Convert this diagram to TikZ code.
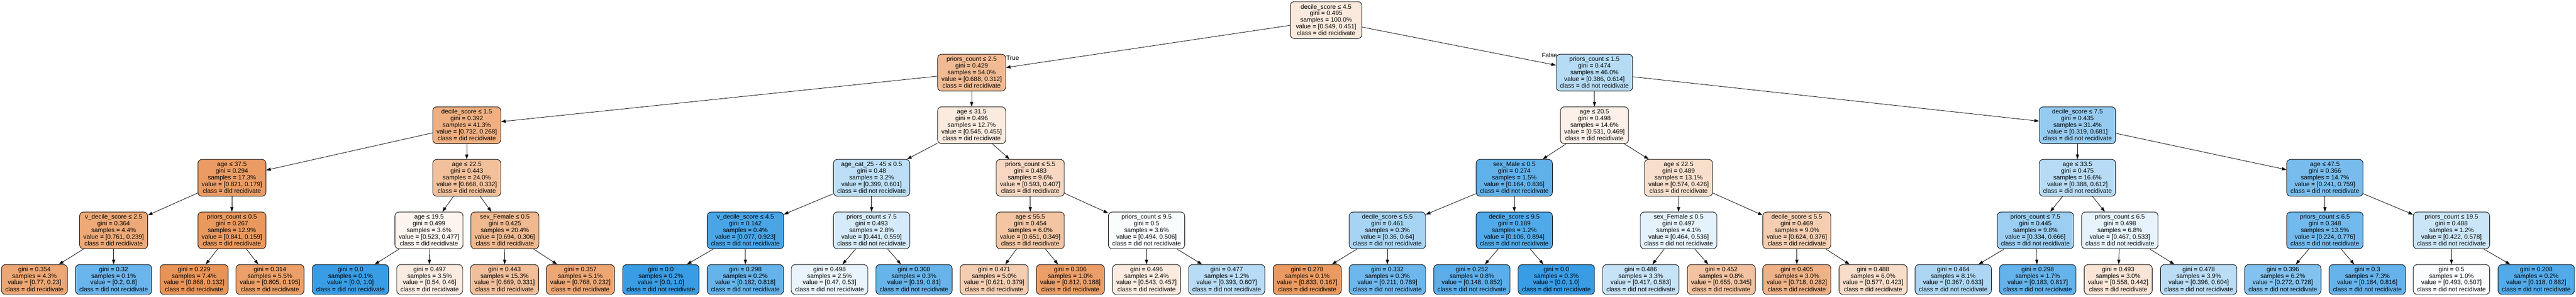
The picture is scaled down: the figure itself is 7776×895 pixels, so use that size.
\documentclass[tikz,border=0pt]{standalone}
\usepackage{fontspec}
\setmainfont{Liberation Sans}
\usetikzlibrary{arrows.meta}
\definecolor{cz}{RGB}{229,129,57}
\definecolor{co}{RGB}{57,157,229}
\newcommand\ls{\rule[-3.8pt]{0pt}{19.8pt}}
\tikzset{
  vals/.code 2 args={%
    \pgfmathparse{(#1)>=(#2)?1:0}%
    \ifdim\pgfmathresult pt>0.5pt
      \pgfmathsetmacro\alp{100*((#1)-(#2))/(1-(#2))}%
      \edef\tmpc{\noexpand\tikzset{fill=cz!\alp!white}}\tmpc
      \def\clsname{did recidivate}%
    \else
      \pgfmathsetmacro\alp{100*((#2)-(#1))/(1-(#1))}%
      \edef\tmpc{\noexpand\tikzset{fill=co!\alp!white}}\tmpc
      \def\clsname{did not recidivate}%
    \fi},
  tnode/.style={draw=black, line width=1.4pt, rounded corners=12pt, align=center,
    inner xsep=11.5pt, inner ysep=0pt, minimum height=111pt,
    font=\fontsize{18.9}{19.8}\selectfont},
  lnode/.style={tnode, minimum height=90pt},
  lbl/.style={inner sep=0pt, font=\fontsize{18.9}{19.8}\selectfont},
  edge/.style={line width=1.3pt, -{Triangle[length=14pt,width=9.5pt]}}
}
\newcommand\inode[8][]{\node[tnode,vals={#7}{#8},#1] (#2) at (#3) {#4\ls\\gini = #5\\samples = #6\%\\value = [#7, #8]\\class = \clsname\ls};}
\newcommand\leafn[6]{\node[lnode,vals={#5}{#6}] (#1) at (#2,843) {gini = #3\ls\\samples = #4\%\\value = [#5, #6]\\class = \clsname\ls};}
\begin{document}
\begin{tikzpicture}[x=1pt,y=-1pt]
\useasboundingbox (0,0) rectangle (7776,895);
\fill[white] (0,0) rectangle (7776,895);
% level 0
\inode[minimum width=216pt]{n0}{4003,60.5}{decile\_score ≤ 4.5}{0.495}{100.0}{0.549}{0.451}
% level 1
\inode{n1}{2933,219.1}{priors\_count ≤ 2.5}{0.429}{54.0}{0.688}{0.312}
\inode{n2}{4813,219.1}{priors\_count ≤ 1.5}{0.474}{46.0}{0.386}{0.614}
% level 2
\inode{n3}{1409,377.7}{decile\_score ≤ 1.5}{0.392}{41.3}{0.732}{0.268}
\inode{n4}{2933,377.7}{age ≤ 31.5}{0.496}{12.7}{0.545}{0.455}
\inode{n5}{4813,377.7}{age ≤ 20.5}{0.498}{14.6}{0.531}{0.469}
\inode{n6}{6271,377.7}{decile\_score ≤ 7.5}{0.435}{31.4}{0.319}{0.681}
% level 3
\inode{n7}{700,536.3}{age ≤ 37.5}{0.294}{17.3}{0.821}{0.179}
\inode{n8}{1409,536.3}{age ≤ 22.5}{0.443}{24.0}{0.668}{0.332}
\inode{n9}{2631,536.3}{age\_cat\_25 - 45 ≤ 0.5}{0.48}{3.2}{0.399}{0.601}
\inode{n10}{3110,536.3}{priors\_count ≤ 5.5}{0.483}{9.6}{0.593}{0.407}
\inode{n11}{4571,536.3}{sex\_Male ≤ 0.5}{0.274}{1.5}{0.164}{0.836}
\inode{n12}{5067,536.3}{age ≤ 22.5}{0.489}{13.1}{0.574}{0.426}
\inode{n13}{6271,536.3}{age ≤ 33.5}{0.475}{16.6}{0.388}{0.612}
\inode{n14}{7018,536.3}{age ≤ 47.5}{0.366}{14.7}{0.241}{0.759}
% level 4
\inode{n15}{343,694.9}{v\_decile\_score ≤ 2.5}{0.364}{4.4}{0.761}{0.239}
\inode{n16}{700,694.9}{priors\_count ≤ 0.5}{0.267}{12.9}{0.841}{0.159}
\inode{n17}{1295,694.9}{age ≤ 19.5}{0.499}{3.6}{0.523}{0.477}
\inode{n18}{1524,694.9}{sex\_Female ≤ 0.5}{0.425}{20.4}{0.694}{0.306}
\inode{n19}{2250,694.9}{v\_decile\_score ≤ 4.5}{0.142}{0.4}{0.077}{0.923}
\inode{n20}{2631,694.9}{priors\_count ≤ 7.5}{0.493}{2.8}{0.441}{0.559}
\inode{n21}{3110,694.9}{age ≤ 55.5}{0.454}{6.0}{0.651}{0.349}
\inode{n22}{3461,694.9}{priors\_count ≤ 9.5}{0.5}{3.6}{0.494}{0.506}
\inode{n23}{4188,694.9}{decile\_score ≤ 5.5}{0.461}{0.3}{0.36}{0.64}
\inode{n24}{4571,694.9}{decile\_score ≤ 9.5}{0.189}{1.2}{0.106}{0.894}
\inode{n25}{5067,694.9}{sex\_Female ≤ 0.5}{0.497}{4.1}{0.464}{0.536}
\inode{n26}{5424,694.9}{decile\_score ≤ 5.5}{0.469}{9.0}{0.624}{0.376}
\inode{n27}{6144,694.9}{priors\_count ≤ 7.5}{0.445}{9.8}{0.334}{0.666}
\inode{n28}{6399,694.9}{priors\_count ≤ 6.5}{0.498}{6.8}{0.467}{0.533}
\inode{n29}{7018,694.9}{priors\_count ≤ 6.5}{0.348}{13.5}{0.224}{0.776}
\inode{n30}{7400,694.9}{priors\_count ≤ 19.5}{0.488}{1.2}{0.422}{0.578}
% leaves
\leafn{l1}{104}{0.354}{4.3}{0.77}{0.23}
\leafn{l2}{343}{0.32}{0.1}{0.2}{0.8}
\leafn{l3}{586}{0.229}{7.4}{0.868}{0.132}
\leafn{l4}{815}{0.314}{5.5}{0.805}{0.195}
\leafn{l5}{1058}{0.0}{0.1}{0.0}{1.0}
\leafn{l6}{1297}{0.497}{3.5}{0.54}{0.46}
\leafn{l7}{1523}{0.443}{15.3}{0.669}{0.331}
\leafn{l8}{1752}{0.357}{5.1}{0.768}{0.232}
\leafn{l9}{1995}{0.0}{0.2}{0.0}{1.0}
\leafn{l10}{2250}{0.298}{0.2}{0.182}{0.818}
\leafn{l11}{2504}{0.498}{2.5}{0.47}{0.53}
\leafn{l12}{2759}{0.308}{0.3}{0.19}{0.81}
\leafn{l13}{3001}{0.471}{5.0}{0.621}{0.379}
\leafn{l14}{3231}{0.306}{1.0}{0.812}{0.188}
\leafn{l15}{3461}{0.496}{2.4}{0.543}{0.457}
\leafn{l16}{3703}{0.477}{1.2}{0.393}{0.607}
\leafn{l17}{3946}{0.278}{0.1}{0.833}{0.167}
\leafn{l18}{4188}{0.332}{0.3}{0.211}{0.789}
\leafn{l19}{4443}{0.252}{0.8}{0.148}{0.852}
\leafn{l20}{4698}{0.0}{0.3}{0.0}{1.0}
\leafn{l21}{4953}{0.486}{3.3}{0.417}{0.583}
\leafn{l22}{5196}{0.452}{0.8}{0.655}{0.345}
\leafn{l23}{5424}{0.405}{3.0}{0.718}{0.282}
\leafn{l24}{5654}{0.488}{6.0}{0.577}{0.423}
\leafn{l25}{5896}{0.464}{8.1}{0.367}{0.633}
\leafn{l26}{6151}{0.298}{1.7}{0.183}{0.817}
\leafn{l27}{6394}{0.493}{3.0}{0.558}{0.442}
\leafn{l28}{6637}{0.478}{3.9}{0.396}{0.604}
\leafn{l29}{6891}{0.396}{6.2}{0.272}{0.728}
\leafn{l30}{7146}{0.3}{7.3}{0.184}{0.816}
\leafn{l31}{7400}{0.5}{1.0}{0.493}{0.507}
\leafn{l32}{7656}{0.208}{0.2}{0.118}{0.882}
% edges
\foreach \p/\c in {n0/n1,n0/n2,n1/n3,n1/n4,n2/n5,n2/n6,
  n3/n7,n3/n8,n4/n9,n4/n10,n5/n11,n5/n12,n6/n13,n6/n14,
  n7/n15,n7/n16,n8/n17,n8/n18,n9/n19,n9/n20,n10/n21,n10/n22,
  n11/n23,n11/n24,n12/n25,n12/n26,n13/n27,n13/n28,n14/n29,n14/n30,
  n15/l1,n15/l2,n16/l3,n16/l4,n17/l5,n17/l6,n18/l7,n18/l8,
  n19/l9,n19/l10,n20/l11,n20/l12,n21/l13,n21/l14,n22/l15,n22/l16,
  n23/l17,n23/l18,n24/l19,n24/l20,n25/l21,n25/l22,n26/l23,n26/l24,
  n27/l25,n27/l26,n28/l27,n28/l28,n29/l29,n29/l30,n30/l31,n30/l32}
  \draw[edge] (\p) -- (\c);
% edge labels
\node[lbl] (tlab) at (3057,175) {True};
\node[lbl] (flab) at (4677,167) {False};
\end{tikzpicture}
\end{document}
